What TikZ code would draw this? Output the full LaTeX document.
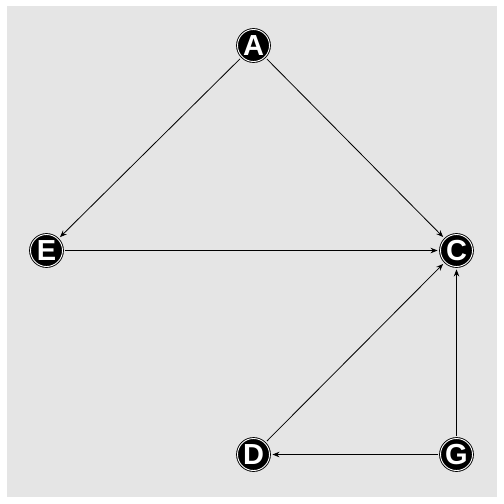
\documentclass[tikz,border=0pt]{standalone}
\usepackage{fontspec}
\setmainfont{Liberation Sans}
\usetikzlibrary{arrows.meta}
\begin{document}
\begin{tikzpicture}[x=1pt,y=-1pt,
  vtx/.style={circle, fill=black, draw=black, double=white, double distance=0.9pt, line width=0.9pt,
    minimum size=32pt, inner sep=0pt, text=white, font=\fontsize{29}{29}\selectfont\bfseries},
  edge/.style={draw=black, line width=0.8pt, -{Stealth[length=7pt,width=5.5pt]}, shorten >=2.5pt, shorten <=2.5pt}]
\useasboundingbox (0,0) rectangle (504,504);
\fill[fill={rgb,255:red,229;green,229;blue,229}] (7,6) rectangle (497,497);
\node[vtx] (A) at (253.5,45.5) {A};
\node[vtx] (E) at (46.5,250.5) {E};
\node[vtx] (C) at (456.5,250.5) {C};
\node[vtx] (D) at (253.5,454.5) {D};
\node[vtx] (G) at (456.5,454.5) {G};
\draw[edge] (A) -- (E);
\draw[edge] (A) -- (C);
\draw[edge] (E) -- (C);
\draw[edge] (D) -- (C);
\draw[edge] (G) -- (C);
\draw[edge] (G) -- (D);
\end{tikzpicture}
\end{document}
